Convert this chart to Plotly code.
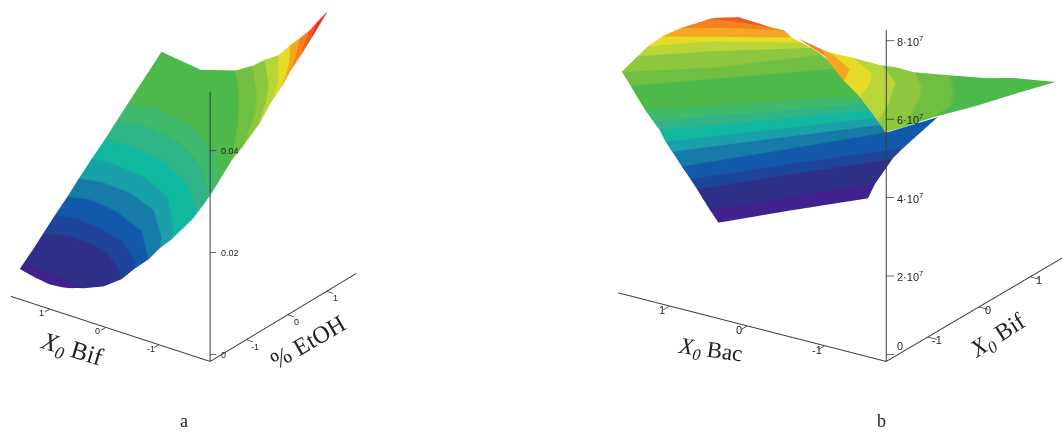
import plotly.graph_objects as go

band_colors = ['#41218c', '#2e2f87', '#1f459b', '#1259ab', '#177ba9', '#1aa0a8', '#0fb89f', '#2fb487', '#3fb96b',
               '#4cb94a', '#70bf42', '#8dc63f', '#b8d63a', '#e6dc26', '#f4a821', '#f6821f', '#f15a22', '#ee2f24']

# panel a, % EtOH (x) and X0 Bif (y), one row per contour
a_levels = [.0035, .0065, .0089, .0111, .0133, .0155, .0177, .0199, .0221, .0243, .033, .036, .039, .042, .045, .048, .05, .052, .054]
a_low_z = [.0035, .0065, .0077, .0089, .0111, .0133, .0155, .0177, .0199, .0221, .0243, .0329]
a_low_x = [[-1.54, -1.63, -1.69, -1.66, -1.62, -1.54],
           [-1.76, -1.79, -1.80, -1.86, -1.89, -1.90],
           [-1.47, -1.31, -1.28, -1.36, -1.67, -1.84],
           [-1.10, -.94, -.93, -1.02, -1.44, -1.65],
           [-.78, -.69, -.76, -.91, -1.34, -1.58],
           [-.49, -.36, -.45, -.77, -1.35, -1.48],
           [-.24, -.14, -.18, -.44, -1.10, -1.42],
           [.12, .16, .07, -.26, -1.04, -1.34],
           [.41, .50, .36, -.01, -.66, -.92],
           [.70, .88, .73, .30, -.32, -.71],
           [1.02, 1.15, 1.00, .52, -.13, -.59],
           [1.51, 1.37, 1.66, 1.04, .21, -.80]]
a_low_y = [[1.91, 1.57, 1.26, 1.06, .95, .85],
           [1.68, 1.37, 1.00, .68, .57, .47],
           [1.72, 1.40, 1.04, .64, .32, .15],
           [1.80, 1.48, 1.12, .69, .13, -.04],
           [1.81, 1.47, 1.01, .48, -.08, -.21],
           [1.80, 1.47, .92, .22, -.30, -.41],
           [1.79, 1.44, .88, .27, -.36, -.55],
           [1.81, 1.48, .82, .14, -.52, -.73],
           [1.80, 1.41, .65, -.04, -.69, -.80],
           [1.80, 1.35, .65, -.06, -.65, -.86],
           [1.81, 1.36, .62, -.14, -.69, -.93],
           [1.56, .74, .31, -.21, -.80, -1.42]]
a_high_z = [.033, .036, .039, .042, .045, .048, .05, .052, .0538]
a_high_x = [[1.65, 1.02, .19, -.82],
            [1.52, .77, .29, -.72],
            [1.38, .73, .30, -.36],
            [1.22, .53, .09, -.17],
            [1.17, .70, .40, .01],
            [1.03, .68, .38, .11],
            [1.06, .75, .60, .36],
            [1.06, .82, .75, .61],
            [1.21, 1.21, 1.21, 1.21]]
a_high_y = [[.30, -.22, -.81, -1.43],
            [-.11, -.75, -1.07, -1.58],
            [-.44, -.99, -1.26, -1.62],
            [-.81, -1.31, -1.56, -1.67],
            [-1.05, -1.38, -1.55, -1.76],
            [-1.33, -1.54, -1.71, -1.85],
            [-1.49, -1.65, -1.72, -1.86],
            [-1.62, -1.75, -1.78, -1.86],
            [-1.71, -1.71, -1.71, -1.71]]

# panel b, X0 Bif (x) and X0 Bac (y), heights in units of 1e7
b_levels = [2.0, 2.265, 2.529, 2.794, 3.059, 3.324, 3.588, 3.853, 4.118, 4.382, 4.647, 4.912, 5.176, 5.441, 5.706, 5.971, 6.235, 6.5, 6.765]
b_low_z = [2.0, 2.265, 2.529, 2.794, 3.059]
b_low_x = [[-1.57, -.86, -.12], [-1.56, -.77, .02], [-1.39, -.48, .47], [-1.44, -.49, .55], [-1.45, .56, 1.21]]
b_low_y = [[.53, .07, -.44], [.65, .12, -.44], [.93, .31, -.37], [.98, .31, -.46], [1.08, -.24, -.46]]
b_up_z = [3.059, 3.324, 3.588, 3.853, 4.118, 4.382, 4.647, 4.912, 5.176, 5.441, 5.706, 5.971, 6.235, 6.394]
b_up_x = [[-1.45, -.49, .56], [-1.40, -.43, .46], [-1.45, -.46, .35], [-1.45, -.47, .25], [-1.52, -.52, .14],
          [-1.56, -.53, .05], [-1.32, -.13, .30], [-1.29, -.66, .29], [-1.06, -.51, .15], [-1.01, -.52, -.03],
          [-.93, -.57, -.21], [-.88, -.60, -.33], [-.73, -.63, -.58], [-.82, -.68, -.71]]
b_up_y = [[1.08, .44, -.24], [1.24, .48, -.23], [1.29, .46, -.23], [1.37, .45, -.22], [1.41, .41, -.23],
          [1.48, .41, -.20], [1.83, .67, .25], [1.96, 1.22, .43], [1.90, 1.32, .47], [1.80, 1.31, .48],
          [1.66, 1.07, .49], [1.46, 1.05, .50], [1.18, .82, .50], [1.04, .86, .53]]
b_wing_z = [6.103, 5.971, 5.706, 5.441, 5.176, 5.044, 4.912, 4.647, 4.541, 4.462, 4.409]
b_wing_x = [[-.557, -.557, -.557, -.557], [-.527, -.573, -.631, -.677], [-.337, -.595, -.851, -.88],
            [-.08, -.333, -.577, -.915], [.154, -.158, -.658, -1.141], [.317, .005, -.507, -1.252],
            [.428, .121, -.198, -.909], [.802, .413, .123, -.257], [1.055, .806, .66, .345],
            [1.293, 1.166, 1.079, .969], [1.499, 1.499, 1.499, 1.499]]
b_wing_y = [[.174, .174, .174, .174], [-.063, -.144, -.207, -.238], [-.079, -.491, -.608, -.614],
            [-.194, -.615, -.749, -.842], [-.425, -.808, -1.058, -1.233], [-.511, -.843, -1.075, -1.408],
            [-.669, -.959, -1.13, -1.415], [-.861, -1.178, -1.343, -1.373], [-1.182, -1.409, -1.44, -1.518],
            [-1.385, -1.494, -1.564, -1.649], [-1.789, -1.789, -1.789, -1.789]]

tick_text = ['-1', '0', '1']
a_x_ticks = [-.78, .25, 1.22]
a_y_ticks = [-.74, .23, 1.26]
a_z_ticks = [0, .02, .04]
a_z_text = ['0', '0.02', '0.04']
b_x_ticks = [-1, 0, 1]
b_y_ticks = [-1, 0, 1]
b_z_ticks = [0, 2e7, 4e7, 6e7, 8e7]
b_z_text = ['0', '2·10<sup>7</sup>', '4·10<sup>7</sup>', '6·10<sup>7</sup>', '8·10<sup>7</sup>']

AX = '#3c3c3c'
fig = go.Figure()


def band_scale(levels):
    lo, hi = levels[0], levels[-1]
    scale = []
    for i, col in enumerate(band_colors):
        scale.append([(levels[i] - lo) / (hi - lo), col])
        scale.append([(levels[i + 1] - lo) / (hi - lo), col])
    return scale


def add_surface(x, y, z_rows, levels, scene, unit=1):
    z = [[v * unit] * len(row) for v, row in zip(z_rows, x)]
    fig.add_trace(go.Surface(x=x, y=y, z=z, scene=scene, colorscale=band_scale(levels),
                             cmin=levels[0] * unit, cmax=levels[-1] * unit, showscale=False, hoverinfo='skip',
                             lighting=dict(ambient=1, diffuse=0, specular=0, fresnel=0, roughness=1)))


def add_line(x, y, z, scene, width):
    fig.add_trace(go.Scatter3d(x=x, y=y, z=z, mode='lines', line=dict(color=AX, width=width),
                               scene=scene, showlegend=False, hoverinfo='skip'))


def add_axes(scene, x0, y0, z0, x1, y1, z1, xt, yt, zt, zlen):
    add_line([x1, x0, x0], [y0, y0, y1], [z0, z0, z0], scene, 2)
    add_line([x0, x0], [y0, y0], [z0, z1], scene, 2)
    for t in xt:
        add_line([t, t], [y0, y0 - .12], [z0, z0], scene, 1.5)
    for t in yt:
        add_line([x0, x0 - .12], [t, t], [z0, z0], scene, 1.5)
    for t in zt:
        add_line([x0, x0 + zlen], [y0, y0 - zlen * 1.5], [t, t], scene, 1.5)


def tick_notes(x0, y0, z0, xt, yt, zt, ztext, x_dy, z_dy, size):
    font = dict(family='Liberation Sans', size=size, color='#222')
    notes = []
    for t, s in zip(xt, tick_text):
        notes.append(dict(x=t, y=y0, z=z0, text=s, showarrow=False, font=font, xanchor='center', yanchor='middle',
                          xshift=9, yshift=x_dy))
    for t, s in zip(yt, tick_text):
        notes.append(dict(x=x0, y=t, z=z0, text=s, showarrow=False, font=font, xanchor='center', yanchor='middle',
                          xshift=-8, yshift=-4))
    for v, s, dy in zip(zt, ztext, z_dy):
        notes.append(dict(x=x0, y=y0, z=v, text=s, showarrow=False, font=font, xanchor='left', yanchor='middle',
                          xshift=9, yshift=dy))
    return notes


def make_scene(dom, half, zrange, scale, zratio, eye, notes):
    return dict(domain=dict(x=dom, y=[0, 1]),
                xaxis=dict(visible=False, range=[-half, half]),
                yaxis=dict(visible=False, range=[-half, half]),
                zaxis=dict(visible=False, range=zrange),
                aspectmode='manual', aspectratio=dict(x=scale, y=scale, z=scale * zratio),
                camera=dict(eye=dict(x=eye[0], y=eye[1], z=eye[2]), up=dict(x=0, y=0, z=1), center=dict(x=0, y=0, z=0),
                            projection=dict(type='orthographic')),
                bgcolor='white', annotations=notes)


add_surface(a_low_x, a_low_y, a_low_z, a_levels, 'scene')
add_surface(a_high_x, a_high_y, a_high_z, a_levels, 'scene')
add_surface(b_low_x, b_low_y, b_low_z, b_levels, 'scene2', 1e7)
add_surface(b_up_x, b_up_y, b_up_z, b_levels, 'scene2', 1e7)
add_surface(b_wing_x, b_wing_y, b_wing_z, b_levels, 'scene2', 1e7)

add_axes('scene', -1.68, -1.68, -.0014, 1.95, 1.97, .0516, a_x_ticks, a_y_ticks, a_z_ticks, .05)
add_axes('scene2', -1.81, -1.79, -1.8e6, 1.66, 1.93, 8.27e7, b_x_ticks, b_y_ticks, b_z_ticks, .048)

sub_x = '<i>X</i><sub><i>0</i></sub> '
titles = [(sub_x + 'Bif', 72, 350, 17, 25), ('% EtOH', 308, 342, -30, 24), (sub_x + 'Bac', 710, 351, 8, 23),
          (sub_x + 'Bif', 998, 337, -33, 24), ('a', 184, 421, 0, 18), ('b', 881, 421, 0, 18)]
notes = [dict(text=text, x=px / 1062, y=1 - py / 435, xref='paper', yref='paper', xanchor='center', yanchor='middle',
              showarrow=False, textangle=ang, font=dict(family='Liberation Serif', size=size, color='#222'))
         for text, px, py, ang, size in titles]

fig.update_layout(
    width=1062, height=435, margin=dict(l=0, r=0, t=0, b=0), paper_bgcolor='white', showlegend=False, annotations=notes,
    scene=make_scene([0, 372 / 1062], 3, [-.037, .063], 1.87, 1.397, [-2.415, -1.779, 1.485],
                     tick_notes(-1.68, -1.68, -.0014, a_x_ticks, a_y_ticks, a_z_ticks, a_z_text, -7, [-1, 0, 0], 9)),
    scene2=make_scene([618 / 1062, 1], 4, [-6.3e7, 8.69e7], 3.42, .857, [-2.505, -1.653, 1.263],
                      tick_notes(-1.81, -1.79, -1.8e6, b_x_ticks, b_y_ticks, b_z_ticks, b_z_text, -3, [8, 0, 0, 0, 0], 11)))

fig.write_html("out.html", config=dict(displayModeBar=False), post_script="document.body.style.margin='0';")
